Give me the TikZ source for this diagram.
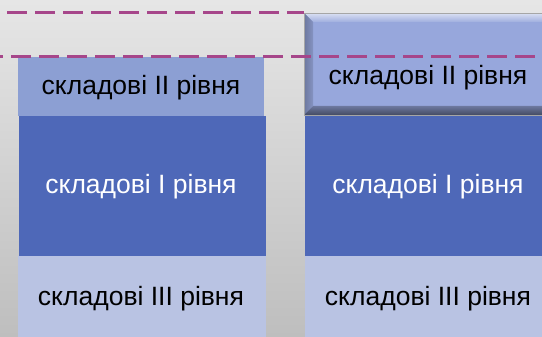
\documentclass[tikz,border=0pt]{standalone}
\usepackage{fontspec}
\setmainfont{Liberation Sans}
\definecolor{bgtop}{HTML}{E6E6E6}
\definecolor{bgbot}{HTML}{BEBEBE}
\definecolor{lvltwo}{HTML}{8C9FD3}
\definecolor{lvlone}{HTML}{4E68B8}
\definecolor{lvlthree}{HTML}{B9C3E3}
\definecolor{bevelface}{HTML}{97A7DC}
\definecolor{guide}{HTML}{A6468A}
\tikzset{
  lvlbox/.style={rectangle, inner sep=0pt, anchor=north west},
  lvlfont/.style={inner sep=0pt, font=\fontsize{26.5}{30}\selectfont},
  guideline/.style={draw=guide, line width=3pt, dash pattern=on 20pt off 8pt}
}
\begin{document}
\begin{tikzpicture}[x=1pt,y=-1pt]
\useasboundingbox (0,0) rectangle (542,337);
\clip (0,0) rectangle (542,337);
% backdrop
\shade[top color=bgtop, bottom color=bgbot] (0,0) rectangle (542,337);

% left column
\node[lvlbox, fill=lvltwo, minimum width=246pt, minimum height=59pt] (ltwo) at (18,57) {};
\node[lvlfont, text=black] (ltwot) at (141,88) {складові II рівня};
\node[lvlbox, fill=lvlone, minimum width=247pt, minimum height=140pt] (lone) at (19,116) {};
\node[lvlfont, text=white] (lonet) at (141,187) {складові I рівня};
\node[lvlbox, fill=lvlthree, minimum width=248pt, minimum height=82pt] (lthree) at (18,256) {};
\node[lvlfont, text=black] (lthreet) at (141,299) {складові III рівня};

% right column: bevelled level II block
\fill[bevelface] (304,13) rectangle (562,115);
\shade[top color=white!65!bevelface, bottom color=bevelface!92!white]
  (304,13) -- (562,13) -- (553,22) -- (313,22) -- cycle;
\shade[left color=bevelface!72!black, right color=bevelface!88!black]
  (304,13) -- (313,22) -- (313,106) -- (304,115) -- cycle;
\shade[top color=bevelface!72!black, bottom color=bevelface!45!black]
  (304,115) -- (313,106) -- (553,106) -- (562,115) -- cycle;
\draw[gray!70, line width=0.6pt] (304,13) rectangle (562,115);
\coordinate (bevelcorner) at (304,13);
\node[lvlfont, text=black] (rtwot) at (428,78) {складові II рівня};

\node[lvlbox, fill=lvlone, minimum width=240pt, minimum height=140pt] (rone) at (305,116) {};
\node[lvlfont, text=white] (ronet) at (428,187) {складові I рівня};
\node[lvlbox, fill=lvlthree, minimum width=240pt, minimum height=82pt] (rthree) at (305,256) {};
\node[lvlfont, text=black] (rthreet) at (428,299) {складові III рівня};

% dashed guide lines
\coordinate (gastart) at (7,13);
\coordinate (gbstart) at (0,57);
\coordinate (gbend) at (542,57);
\draw[guideline] (gastart) -- (bevelcorner);
\draw[guideline, dash phase=17pt] (gbstart) -- (gbend);
\end{tikzpicture}
\end{document}
